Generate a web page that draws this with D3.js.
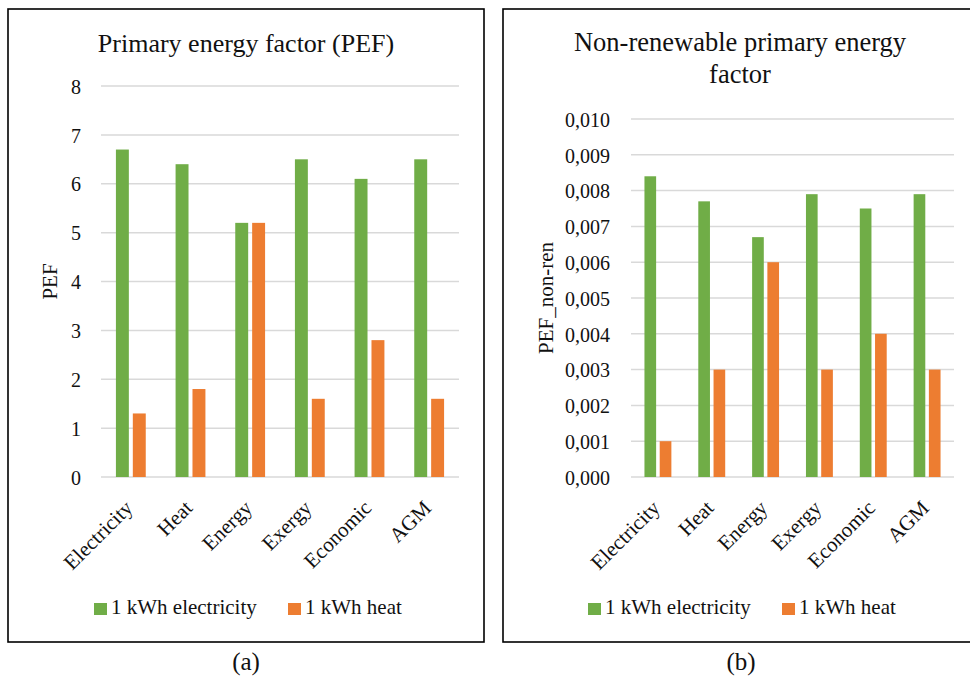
<!DOCTYPE html>
<html>
<head>
<meta charset="utf-8">
<script src="https://cdn.jsdelivr.net/npm/d3@7"></script>
<style>
  html, body { margin: 0; padding: 0; background: #fff; }
  svg { display: block; }
  svg text { font-family: "Liberation Serif", "Times New Roman", serif; fill: #111; }
</style>
</head>
<body>
<svg id="chart" width="970" height="677"></svg>
<script>
// ---- Data ----
const categories = ["Electricity", "Heat", "Energy", "Exergy", "Economic", "AGM"];
const seriesNames = ["1 kWh electricity", "1 kWh heat"];
const pefElectricity = [6.7, 6.4, 5.2, 6.5, 6.1, 6.5];
const pefHeat = [1.3, 1.8, 5.2, 1.6, 2.8, 1.6];
const nonRenElectricity = [0.0084, 0.0077, 0.0067, 0.0079, 0.0075, 0.0079];
const nonRenHeat = [0.001, 0.003, 0.006, 0.003, 0.004, 0.003];
const pefTicks = [0, 1, 2, 3, 4, 5, 6, 7, 8];
const nonRenTicks = [0, 0.001, 0.002, 0.003, 0.004, 0.005, 0.006, 0.007, 0.008, 0.009, 0.010];
const panelLabels = ["(a)", "(b)"];

const colors = ["#70ad47", "#ed7d31"];
const FONT = "Liberation Serif, Times New Roman, serif";
const commaLocale = d3.formatLocale({decimal: ",", thousands: ".", grouping: [3], currency: ["", ""]});

const svg = d3.select("#chart");

function drawPanel(cfg) {
  const g = svg.append("g").attr("font-family", FONT);
  // frame
  g.append("rect")
    .attr("x", cfg.box[0]).attr("y", cfg.box[1])
    .attr("width", cfg.box[2] - cfg.box[0]).attr("height", cfg.box[3] - cfg.box[1])
    .attr("fill", "none").attr("stroke", "#000").attr("stroke-width", 1.6);

  const y = d3.scaleLinear().domain(cfg.domain).range([cfg.plot.bottom, cfg.plot.top]);
  const x0 = d3.scaleBand().domain(categories).range([cfg.plot.left, cfg.plot.right])
    .paddingInner(cfg.groupPad).paddingOuter(cfg.groupPad / 2);
  const x1 = d3.scaleBand().domain([0, 1]).range([0, x0.bandwidth()]).paddingInner(cfg.barPad);

  // gridlines
  g.append("g").selectAll("line").data(cfg.ticks).join("line")
    .attr("x1", cfg.plot.left).attr("x2", cfg.plot.right)
    .attr("y1", d => y(d)).attr("y2", d => y(d))
    .attr("stroke", "#d9d9d9").attr("stroke-width", 1.5);

  // y axis labels
  const yAxis = d3.axisLeft(y).tickValues(cfg.ticks).tickFormat(cfg.fmt).tickSize(0).tickPadding(0);
  const ya = g.append("g").attr("transform", `translate(${cfg.tickX},0)`).call(yAxis)
    .attr("font-family", FONT).attr("font-size", 20);
  ya.select(".domain").remove();
  ya.selectAll("text").attr("fill", "#111").style("font-family", FONT).attr("dy", "0.36em");

  // bars
  const series = [cfg.s1, cfg.s2];
  series.forEach((vals, si) => {
    g.append("g").selectAll("rect").data(vals).join("rect")
      .attr("x", (d, i) => x0(categories[i]) + x1(si))
      .attr("y", d => y(d))
      .attr("width", x1.bandwidth())
      .attr("height", d => y(0) - y(d))
      .attr("fill", colors[si]);
  });

  // category labels
  g.append("g").selectAll("text").data(categories).join("text")
    .attr("transform", d => `translate(${x0(d) + x0.bandwidth() / 2 - 2},${cfg.plot.bottom + 27}) rotate(-45)`)
    .attr("text-anchor", "end")
    .attr("dy", "0.35em")
    .attr("font-size", 21)
    .text(d => d);

  // y axis title
  g.append("text")
    .attr("transform", `translate(${cfg.yTitleX},${(cfg.plot.top + cfg.plot.bottom) / 2}) rotate(-90)`)
    .attr("text-anchor", "middle")
    .attr("dy", "0.35em")
    .attr("font-size", 21)
    .text(cfg.yTitle);

  // chart title
  cfg.title.forEach((line, i) => {
    g.append("text")
      .attr("x", cfg.titleX).attr("y", cfg.titleY + i * 32)
      .attr("text-anchor", "middle")
      .attr("font-size", cfg.titleSize)
      .text(line);
  });

  // legend
  const lg = g.append("g").attr("transform", `translate(${cfg.legendX},${cfg.legendY})`);
  const offsets = [0, cfg.legendGap];
  seriesNames.forEach((name, i) => {
    lg.append("rect").attr("x", offsets[i]).attr("y", -11).attr("width", 13).attr("height", 12)
      .attr("fill", colors[i]);
    lg.append("text").attr("x", offsets[i] + 17).attr("y", 0).attr("font-size", 21).text(name);
  });

  // panel label
  svg.append("text")
    .attr("x", cfg.labelX).attr("y", 670)
    .attr("text-anchor", "middle")
    .attr("font-family", FONT)
    .attr("font-size", 25)
    .text(cfg.label);
}

drawPanel({
  box: [8, 9, 484, 642],
  plot: {left: 101, right: 459, top: 86, bottom: 477},
  domain: [0, 8],
  ticks: pefTicks,
  fmt: d3.format("d"),
  s1: pefElectricity, s2: pefHeat,
  groupPad: 0.5, barPad: 0.235,
  tickX: 81,
  yTitleX: 50, yTitle: "PEF",
  title: ["Primary energy factor (PEF)"], titleX: 246, titleY: 52, titleSize: 26,
  legendX: 94, legendY: 614, legendGap: 194,
  label: panelLabels[0], labelX: 246
});

drawPanel({
  box: [503, 9, 975, 642],
  plot: {left: 631, right: 954, top: 119, bottom: 477},
  domain: [0, 0.010],
  ticks: nonRenTicks,
  fmt: commaLocale.format(".3f"),
  s1: nonRenElectricity, s2: nonRenHeat,
  groupPad: 0.5, barPad: 0.235,
  tickX: 610,
  yTitleX: 546, yTitle: "PEF_non-ren",
  title: ["Non-renewable primary energy", "factor"], titleX: 740, titleY: 51, titleSize: 26.5,
  legendX: 588, legendY: 614, legendGap: 194,
  label: panelLabels[1], labelX: 741
});
</script>
</body>
</html>
